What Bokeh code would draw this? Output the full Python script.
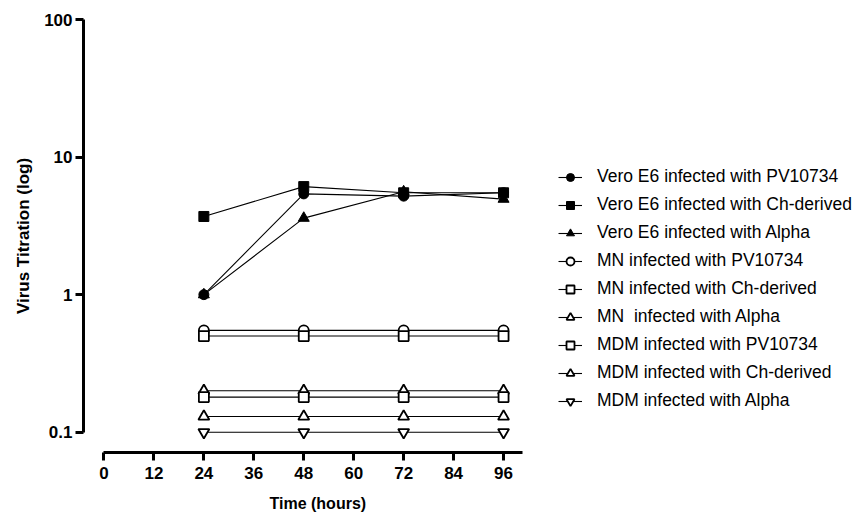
from bokeh.plotting import figure
from bokeh.models import FixedTicker, Range1d, Legend, LegendItem, Title
from bokeh.embed import file_html
from bokeh.resources import INLINE

hours = [24, 48, 72, 96]
vero_pv = [1.0, 5.4, 5.2, 5.5]
vero_ch = [3.7, 6.1, 5.5, 5.5]
vero_alpha = [1.0, 3.6, 5.6, 4.95]
mn_pv = [0.55, 0.55, 0.55, 0.55]
mn_ch = [0.5, 0.5, 0.5, 0.5]
mn_alpha = [0.2, 0.2, 0.2, 0.2]
mdm_pv = [0.18, 0.18, 0.18, 0.18]
mdm_ch = [0.13, 0.13, 0.13, 0.13]
mdm_alpha = [0.1, 0.1, 0.1, 0.1]

series_labels = [
    "Vero E6 infected with PV10734",
    "Vero E6 infected with Ch-derived",
    "Vero E6 infected with Alpha",
    "MN infected with PV10734",
    "MN infected with Ch-derived",
    "MN  infected with Alpha",
    "MDM infected with PV10734",
    "MDM infected with Ch-derived",
    "MDM infected with Alpha",
]
series_values = [vero_pv, vero_ch, vero_alpha, mn_pv, mn_ch, mn_alpha, mdm_pv, mdm_ch, mdm_alpha]
markers = ["circle", "square", "triangle", "circle", "square", "triangle", "square", "triangle", "inverted_triangle"]
filled = [True, True, True, False, False, False, False, False, False]

x_ticks = [0, 12, 24, 36, 48, 60, 72, 84, 96]
y_ticks = [0.1, 1, 10, 100]
y_tick_labels = ["0.1", "1", "10", "100"]
x_title = "Time (hours)"
y_title = "Virus Titration (log)"

FONT = "Liberation Sans"

p = figure(width=856, height=523, y_axis_type="log",
           x_range=Range1d(-4.92, 180.8), y_range=Range1d(0.0712, 100),
           output_backend="svg", toolbar_location=None,
           min_border_left=83, min_border_right=0, min_border_top=19, min_border_bottom=71)
p.outline_line_color = None
p.xgrid.visible = False
p.ygrid.visible = False

for ax in (p.xaxis[0], p.yaxis[0]):
    ax.axis_line_width = 3
    ax.major_tick_line_width = 3
    ax.major_tick_out = 8
    ax.major_tick_in = 0
    ax.minor_tick_out = 0
    ax.minor_tick_in = 0
    ax.major_label_text_font = FONT
    ax.major_label_text_font_style = "bold"
    ax.major_label_text_font_size = "17px"
    ax.major_label_text_color = "black"
    ax.axis_label_text_font = FONT
    ax.axis_label_text_font_style = "bold"
    ax.axis_label_text_color = "black"

p.xaxis.ticker = FixedTicker(ticks=x_ticks)
p.xaxis.bounds = (0, 100.5)
p.xaxis.major_label_standoff = 6

p.yaxis.ticker = FixedTicker(ticks=y_ticks)
p.yaxis.bounds = (0.1, 100)
p.yaxis.major_label_overrides = {t: s for t, s in zip(y_ticks, y_tick_labels)}
p.yaxis.axis_label = y_title
p.yaxis.axis_label_text_font_size = "17px"
p.yaxis.major_label_standoff = 3
p.yaxis.axis_label_standoff = 8

xt = Title(text=x_title, align="left", offset=186, standoff=22,
           text_font=FONT, text_font_style="bold", text_font_size="16px",
           text_color="black")
p.add_layout(xt, "below")

items = []
for lab, vals, mk, fl in zip(series_labels, series_values, markers, filled):
    lr = p.line(hours, vals, line_color="black", line_width=1.1)
    size = 10 if mk in ("circle", "square") else 11
    sr = p.scatter(hours, vals, marker=mk, size=size,
                   fill_color="black" if fl else "white",
                   line_color="black", line_width=1 if fl else 1.8)
    items.append(LegendItem(label=lab, renderers=[lr, sr]))

legend = Legend(items=items, location=(475, 41))
legend.border_line_color = None
legend.background_fill_alpha = 0
legend.padding = 0
legend.margin = 0
legend.spacing = 7
legend.glyph_width = 24
legend.glyph_height = 20
legend.label_height = 20
legend.label_standoff = 15
legend.label_text_font = FONT
legend.label_text_font_size = "17.5px"
legend.label_text_color = "black"
p.add_layout(legend)

open("out.html", "w").write(file_html(p, INLINE))
